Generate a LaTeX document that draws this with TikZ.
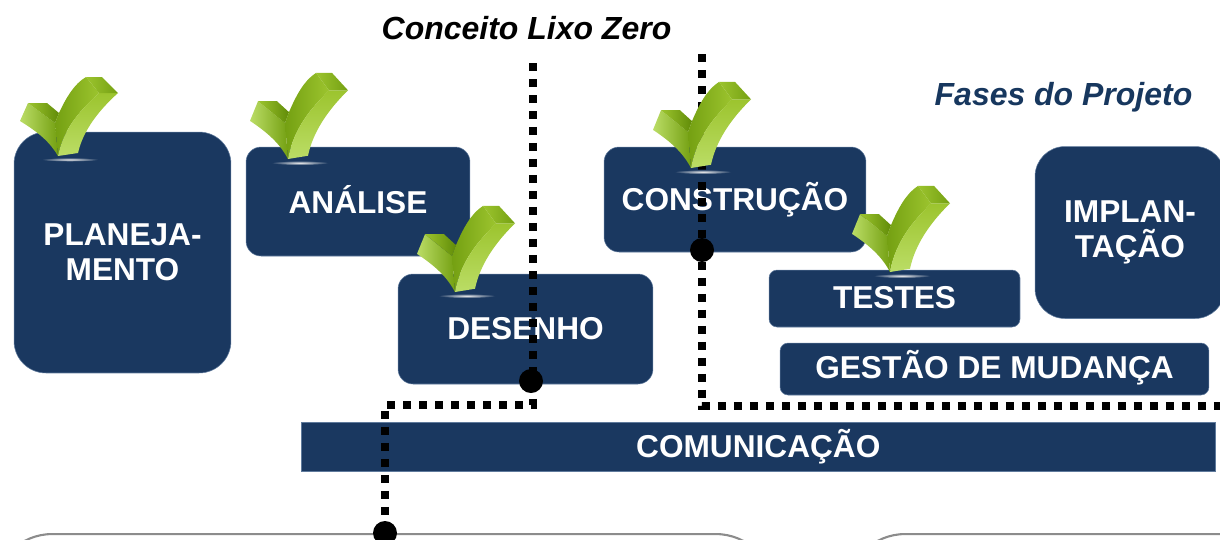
\documentclass[tikz,border=0pt]{standalone}
\usepackage{fontspec}
\setmainfont{Liberation Sans}
\definecolor{navy}{HTML}{1A3860}
\definecolor{navyedge}{HTML}{5F7A9C}
\definecolor{titleblue}{HTML}{17375E}
\definecolor{checklight}{HTML}{BBDD66}
\definecolor{checkmid}{HTML}{9CC42E}
\definecolor{checkdark}{HTML}{74A012}
\definecolor{checkdeep}{HTML}{618C08}
\tikzset{
  phasebox/.style={fill=navy,draw=navyedge,line width=0.3pt,inner sep=0pt,align=center,text=white,
    font=\fontsize{18}{20}\selectfont\bfseries},
  roundbox/.style={fill=white,draw=black!45,line width=1.2pt,inner sep=0pt},
  titletext/.style={font=\fontsize{18.2}{20}\selectfont\bfseries\itshape},
  junction/.style={circle,fill=black,inner sep=0pt,minimum size=0.48cm},
  squaredots/.style={line width=0.15cm,dash pattern=on 0.16cm off 0.16cm},
  pics/checkmark/.style={code={
    \shade[inner color=white!85!gray,outer color=navy] (12,3.5) ellipse (29 and 2);
    % left arm
    \shade[left color=checklight,middle color=checkmid!50!checkdark,right color=checkdark]
      (-38,-35) -- (-30,-53) -- (-3,-33) -- (0,0) .. controls (-8,-14) and (-20,-24) .. cycle;
    \shade[left color=checkmid,right color=checkdeep]
      (-30,-53) -- (-11,-53) -- (1,-43) -- (-3,-33) -- cycle;
    % long arm
    \shade[left color=checkdark,right color=checkmid]
      (-3,-33) -- (1,-43) .. controls (8,-58) and (16,-72) .. (28,-79) -- (41,-63)
      .. controls (25,-48) and (6,-30) .. (0,0) -- cycle;
    \shade[top color=checkmid,bottom color=checklight]
      (41,-63) -- (60,-63) .. controls (40,-45) and (25,-25) .. (20,-3) -- (0,0)
      .. controls (6,-30) and (25,-48) .. cycle;
    \shade[left color=checkmid,right color=checkdark]
      (28,-79) -- (44,-79) -- (60,-63) -- (41,-63) -- cycle;
  }}
}
\begin{document}
\begin{tikzpicture}[x=0.02cm,y=-0.02cm]
  \useasboundingbox (0,0) rectangle (1220,539);
  \clip (0,0) rectangle (1220,539);
  % lower panels
  \node[roundbox,anchor=north west,minimum width=15.6cm,minimum height=4cm,rounded corners=1.16cm] (panelleft) at (-7,533) {};
  \node[roundbox,anchor=north west,minimum width=12cm,minimum height=4cm,rounded corners=1.16cm] (panelright) at (846,533) {};
  % phases
  \node[phasebox,minimum width=4.34cm,minimum height=4.82cm,rounded corners=0.64cm] (planeja) at (122.5,252.5) {PLANEJA-\\MENTO};
  \node[phasebox,minimum width=4.48cm,minimum height=2.18cm,rounded corners=0.3cm,text depth=0.08cm] (analise) at (358,201.5) {ANÁLISE};
  \node[phasebox,minimum width=5.1cm,minimum height=2.2cm,rounded corners=0.3cm] (desenho) at (525.5,329) {DESENHO};
  \node[phasebox,minimum width=5.24cm,minimum height=2.1cm,rounded corners=0.3cm] (construcao) at (735,199.5) {CONSTRUÇÃO};
  \node[phasebox,minimum width=5.02cm,minimum height=1.14cm,rounded corners=0.16cm,text depth=0.06cm] (testes) at (894.5,298.5) {TESTES};
  \node[phasebox,minimum width=3.8cm,minimum height=3.44cm,rounded corners=0.6cm] (implantacao) at (1130,232.5) {IMPLAN-\\TAÇÃO};
  \node[phasebox,minimum width=8.58cm,minimum height=1.04cm,rounded corners=0.16cm,text depth=0.2cm] (gestao) at (994.5,369) {GESTÃO DE MUDANÇA};
  \node[phasebox,minimum width=18.28cm,minimum height=0.98cm] (comunicacao) at (758.3,446.5) {COMUNICAÇÃO};
  % titles
  \node[titletext] (conceito) at (526.5,28) {Conceito Lixo Zero};
  \node[titletext,text=titleblue] (fases) at (1063.5,97) {Fases do Projeto};
  % dotted links
  \coordinate (topleft) at (533,63);
  \coordinate (topright) at (702,54);
  \coordinate (bendleft) at (533,405);
  \coordinate (cornerleft) at (385,405);
  \coordinate (bendright) at (702,406);
  \coordinate (endright) at (1224,406);
  \node[junction] (dotdesenho) at (531,381) {};
  \node[junction] (dotconstrucao) at (702,250) {};
  \node[junction] (dotpanel) at (385,533) {};
  \draw[squaredots] (topleft) -- (bendleft) -- (cornerleft) -- (dotpanel);
  \draw[squaredots] (topright) -- (bendright) -- (endright);
  % check marks
  \pic[yscale=1.0] at (58,156) {checkmark};
  \pic[yscale=1.09] at (288,159) {checkmark};
  \pic[yscale=1.09] at (455,292) {checkmark};
  \pic[yscale=1.09] at (691,168) {checkmark};
  \pic[yscale=1.09] at (890,272) {checkmark};
\end{tikzpicture}
\end{document}
